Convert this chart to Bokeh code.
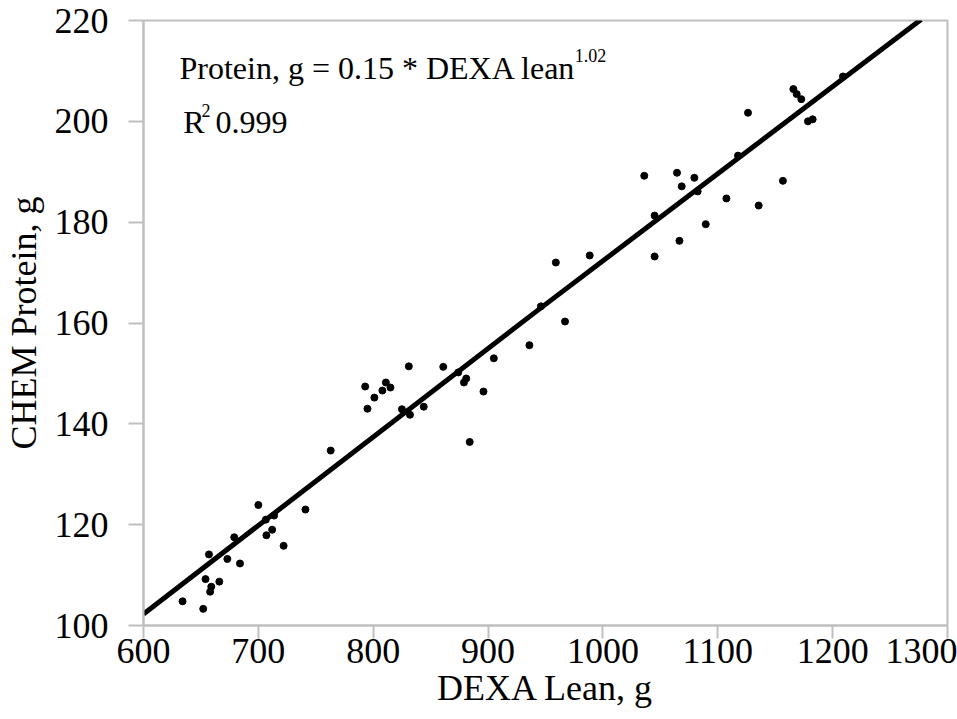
from bokeh.plotting import figure
from bokeh.models import Label, FixedTicker
from bokeh.embed import file_html
from bokeh.resources import INLINE

# Data
dexa_lean = [634, 652, 654, 659, 658, 666, 657, 673, 684, 679,
             700, 706.5, 713.7, 712, 707, 722, 741, 763, 793, 795,
             801, 808, 811, 815, 825, 831, 832, 844, 861, 874,
             879, 881, 884, 896, 905, 936, 946, 959, 967, 988.5,
             1036, 1045, 1045, 1064.5, 1066.6, 1068.6, 1079.6, 1082.5, 1089.5, 1107.5,
             1117.6, 1126.3, 1135.6, 1156.7, 1165.8, 1168.7, 1172.7, 1178.5, 1182.6, 1209]
chem_protein = [104.8, 103.3, 109.2, 107.7, 106.7, 108.7, 114.1, 113.2, 112.3, 117.5,
                123.9, 121.0, 121.8, 119.0, 117.9, 115.8, 123.0, 134.7, 147.4, 143.0,
                145.2, 146.6, 148.2, 147.2, 142.9, 151.4, 141.8, 143.4, 151.3, 150.2,
                148.2, 149.0, 136.4, 146.4, 153.0, 155.6, 163.3, 172.0, 160.3, 173.4,
                189.2, 181.3, 173.2, 189.8, 176.3, 187.1, 188.8, 186.1, 179.6, 184.7,
                193.2, 201.7, 183.3, 188.2, 206.4, 205.4, 204.4, 200.0, 200.4, 208.9]

trend_x = [600, 946, 1277]
trend_y = [102.3, 163.0, 220.2]

x_ticks = [600, 700, 800, 900, 1000, 1100, 1200, 1300]
y_ticks = [100, 120, 140, 160, 180, 200, 220]

FONT = "Liberation Serif"
GRAY = "#BFBFBF"

p = figure(width=957, height=719, x_range=(600, 1300), y_range=(100, 220),
           output_backend="svg", toolbar_location=None,
           min_border_left=142, min_border_right=10,
           min_border_top=20, min_border_bottom=94)
p.background_fill_color = "white"
p.border_fill_color = "white"
p.outline_line_color = GRAY
p.outline_line_width = 2
p.grid.visible = False

for ax in (p.xaxis[0], p.yaxis[0]):
    ax.axis_line_color = GRAY
    ax.axis_line_width = 2
    ax.major_tick_line_color = GRAY
    ax.major_tick_line_width = 2
    ax.minor_tick_line_color = None
    ax.major_tick_in = 0
    ax.major_label_text_font = FONT
    ax.major_label_text_color = "black"
    ax.axis_label_text_font = FONT
    ax.axis_label_text_font_style = "normal"
    ax.axis_label_text_color = "black"

p.xaxis.ticker = FixedTicker(ticks=x_ticks)
p.yaxis.ticker = FixedTicker(ticks=y_ticks)
p.xaxis.major_tick_out = 13
p.yaxis.major_tick_out = 15
p.xaxis.major_label_text_font_size = "36px"
p.yaxis.major_label_text_font_size = "36px"
p.xaxis.axis_label_text_font_size = "36px"
p.yaxis.axis_label_text_font_size = "36px"
p.xaxis.major_label_standoff = 0
p.yaxis.major_label_standoff = 20
p.xaxis.axis_label_standoff = 2
p.yaxis.axis_label_standoff = 8
p.xaxis.axis_label = "DEXA Lean, g"
p.yaxis.axis_label = "CHEM Protein, g"

p.line(trend_x, trend_y, line_color="black", line_width=5)
p.scatter(dexa_lean, chem_protein, size=7, color="black", marker="circle")

ann_size = "32px"
sup_size = "18px"


def add_text(x, y, text, size):
    p.add_layout(Label(x=x, y=y, text=text, text_font=FONT, text_font_size=size,
                       text_color="black", text_baseline="alphabetic"))


add_text(631.3, 210.5, "Protein, g = 0.15 * DEXA lean", ann_size)
add_text(975.5, 213.0, "1.02", sup_size)
add_text(634.5, 199.8, "R", ann_size)
add_text(650.5, 202.1, "2", sup_size)
add_text(662.6, 199.8, "0.999", ann_size)

open("out.html", "w").write(file_html(p, INLINE))
